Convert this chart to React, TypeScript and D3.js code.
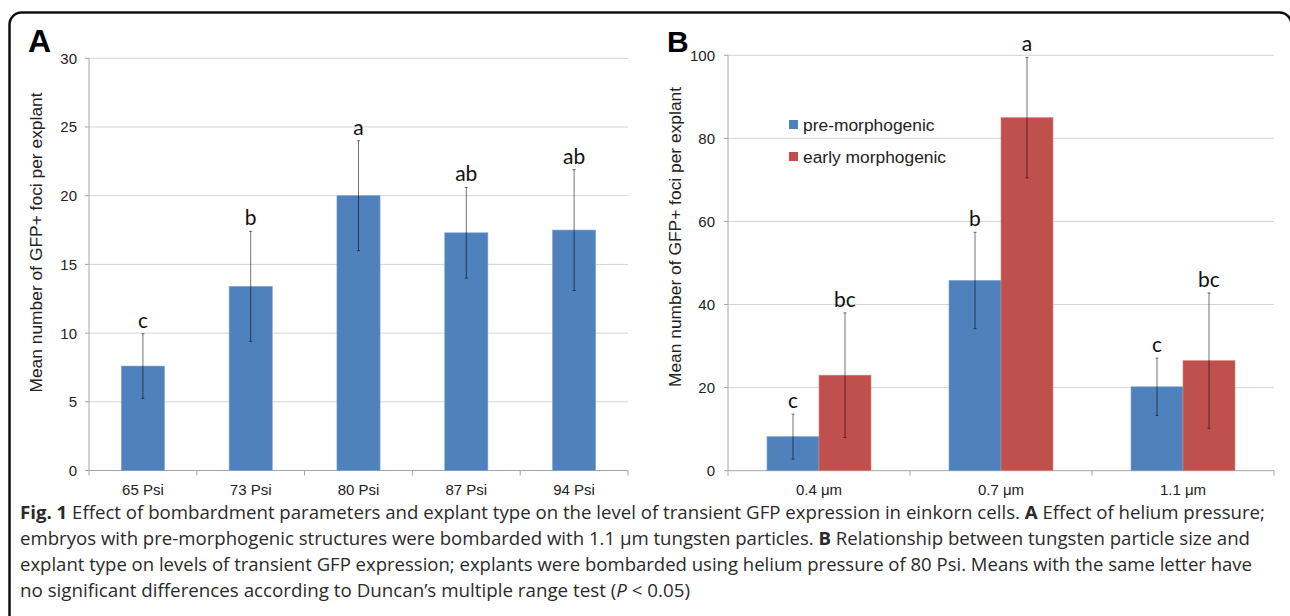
import React from "react";
import * as d3 from "d3";

// ---- Panel A data ----
const pressureCats = ["65 Psi", "73 Psi", "80 Psi", "87 Psi", "94 Psi"];
const pressureMeans = [7.6, 13.4, 20.0, 17.3, 17.5];
const pressureErr = [2.35, 4.0, 4.0, 3.3, 4.4];
const pressureLetters = ["c", "b", "a", "ab", "ab"];
const pressureTicks = [0, 5, 10, 15, 20, 25, 30];

// ---- Panel B data ----
const sizeCats = ["0.4 μm", "0.7 μm", "1.1 μm"];
const seriesNames = ["pre-morphogenic", "early morphogenic"];
const preMeans = [8.2, 45.8, 20.2];
const preErr = [5.4, 11.6, 6.9];
const preLetters = ["c", "b", "c"];
const earlyMeans = [23.0, 85.0, 26.5];
const earlyErr = [15.0, 14.5, 16.3];
const earlyLetters = ["bc", "a", "bc"];
const sizeTicks = [0, 20, 40, 60, 80, 100];

const BLUE = "#4F81BD";
const RED = "#C0504D";
const GRID = "#D4D4D4";
const AXIS = "#A6A6A6";
const ERR = "rgba(0,0,0,0.55)";
const TICK_FONT = "'Liberation Sans', Arial, sans-serif";
const LETTER_FONT = "Lato, 'Open Sans', sans-serif";
const CAP_FONT = "'Open Sans', sans-serif";

function ErrorBar({ x, y0, y1 }: { x: number; y0: number; y1: number }) {
  return (
    <g stroke={ERR} strokeWidth={1}>
      <line x1={x} x2={x} y1={y0} y2={y1} />
      <line x1={x - 1.5} x2={x + 1.5} y1={y0} y2={y0} />
      <line x1={x - 1.5} x2={x + 1.5} y1={y1} y2={y1} />
    </g>
  );
}

function PanelA() {
  const left = 89, right = 628, top = 58.3, bottom = 470.5;
  const y = d3.scaleLinear().domain([0, 30]).range([bottom, top]);
  const x = d3.scaleBand<string>().domain(pressureCats).range([left, right]).paddingInner(0.6).paddingOuter(0.3);
  const step = x.step();
  const boundaries = d3.range(pressureCats.length + 1).map((i) => left + i * step);
  return (
    <g>
      {pressureTicks.map((t) => (
        <g key={t}>
          {t > 0 && <line x1={left} x2={right} y1={y(t)} y2={y(t)} stroke={GRID} strokeWidth={1} />}
          <line x1={left - 4} x2={left} y1={y(t)} y2={y(t)} stroke={AXIS} />
          <text x={left - 12} y={y(t)} dy="0.36em" textAnchor="end" fontFamily={TICK_FONT} fontSize={15} fill="#222">
            {t}
          </text>
        </g>
      ))}
      <line x1={left} x2={left} y1={top} y2={bottom} stroke={AXIS} />
      <line x1={left} x2={right} y1={bottom} y2={bottom} stroke={AXIS} />
      {boundaries.map((b, i) => (
        <line key={i} x1={b} x2={b} y1={bottom} y2={bottom + 5} stroke={AXIS} />
      ))}
      {pressureCats.map((c, i) => {
        const bx = x(c)!;
        const cx = bx + x.bandwidth() / 2;
        const m = pressureMeans[i], e = pressureErr[i];
        return (
          <g key={c}>
            <rect x={bx} y={y(m)} width={x.bandwidth()} height={bottom - y(m)} fill={BLUE} stroke="#7FA3D0" strokeWidth={0.6} />
            <ErrorBar x={cx} y0={y(m + e)} y1={y(m - e)} />
            <text x={cx} y={y(m + e) - 6} textAnchor="middle" fontFamily={LETTER_FONT} fontSize={21} fill="#111">
              {pressureLetters[i]}
            </text>
            <text x={cx} y={495} textAnchor="middle" fontFamily={TICK_FONT} fontSize={15} fill="#222">
              {c}
            </text>
          </g>
        );
      })}
      <text transform="translate(42,242.5) rotate(-90)" textAnchor="middle" fontFamily={TICK_FONT} fontSize={17.4} fill="#222">
        Mean number of GFP+ foci per explant
      </text>
      <text x={28} y={52} fontFamily={TICK_FONT} fontWeight="bold" fontSize={32} fill="#000">A</text>
    </g>
  );
}

function PanelB() {
  const left = 728, right = 1274, top = 55.3, bottom = 470.7;
  const y = d3.scaleLinear().domain([0, 100]).range([bottom, top]);
  const x0 = d3.scaleBand<string>().domain(sizeCats).range([left, right]).paddingInner(78 / 182).paddingOuter(39 / 182);
  const x1 = d3.scaleBand<string>().domain(seriesNames).range([0, x0.bandwidth()]).padding(0);
  const step = x0.step();
  const boundaries = d3.range(sizeCats.length + 1).map((i) => left + i * step);
  const series = [
    { name: seriesNames[0], means: preMeans, errs: preErr, letters: preLetters, color: BLUE, edge: "#7FA3D0" },
    { name: seriesNames[1], means: earlyMeans, errs: earlyErr, letters: earlyLetters, color: RED, edge: "#D88684" },
  ];
  return (
    <g>
      {sizeTicks.map((t) => (
        <g key={t}>
          {t > 0 && <line x1={left} x2={right} y1={y(t)} y2={y(t)} stroke={GRID} strokeWidth={1} />}
          <line x1={left - 4} x2={left} y1={y(t)} y2={y(t)} stroke={AXIS} />
          <text x={left - 13} y={y(t)} dy="0.36em" textAnchor="end" fontFamily={TICK_FONT} fontSize={15} fill="#222">
            {t}
          </text>
        </g>
      ))}
      <line x1={left} x2={left} y1={top} y2={bottom} stroke={AXIS} />
      <line x1={left} x2={right} y1={bottom} y2={bottom} stroke={AXIS} />
      {boundaries.map((b, i) => (
        <line key={i} x1={b} x2={b} y1={bottom} y2={bottom + 5} stroke={AXIS} />
      ))}
      {sizeCats.map((c, i) => (
        <g key={c}>
          {series.map((s) => {
            const bx = x0(c)! + x1(s.name)!;
            const cx = bx + x1.bandwidth() / 2;
            const m = s.means[i], e = s.errs[i];
            return (
              <g key={s.name}>
                <rect x={bx} y={y(m)} width={x1.bandwidth()} height={bottom - y(m)} fill={s.color} stroke={s.edge} strokeWidth={0.6} />
                <ErrorBar x={cx} y0={y(m + e)} y1={y(m - e)} />
                <text x={cx} y={y(m + e) - 6} textAnchor="middle" fontFamily={LETTER_FONT} fontSize={21} fill="#111">
                  {s.letters[i]}
                </text>
              </g>
            );
          })}
          <text x={x0(c)! + x0.bandwidth() / 2} y={495} textAnchor="middle" fontFamily={TICK_FONT} fontSize={15} fill="#222">
            {c}
          </text>
        </g>
      ))}
      {series.map((s, i) => (
        <g key={s.name} transform={`translate(789,${120 + i * 32})`}>
          <rect x={0} y={0} width={9} height={9} fill={s.color} />
          <text x={14} y={4.5} dy="0.36em" fontFamily={TICK_FONT} fontSize={17.4} fill="#222">
            {s.name}
          </text>
        </g>
      ))}
      <text transform="translate(681,237) rotate(-90)" textAnchor="middle" fontFamily={TICK_FONT} fontSize={17.4} fill="#222">
        Mean number of GFP+ foci per explant
      </text>
      <text x={667} y={52} fontFamily={TICK_FONT} fontWeight="bold" fontSize={30} fill="#000">B</text>
    </g>
  );
}

function Caption() {
  const x = 20;
  const fs = 18.6;
  return (
    <g fontFamily={CAP_FONT} fontSize={fs} fill="#2a2a2a">
      <text x={x} y={519} textLength={1245} lengthAdjust="spacingAndGlyphs">
        <tspan fontWeight="bold">Fig. 1</tspan> Effect of bombardment parameters and explant type on the level of transient GFP expression in einkorn cells.{" "}
        <tspan fontWeight="bold">A</tspan> Effect of helium pressure;
      </text>
      <text x={x} y={545} textLength={1230} lengthAdjust="spacingAndGlyphs">
        embryos with pre-morphogenic structures were bombarded with 1.1 μm tungsten particles. <tspan fontWeight="bold">B</tspan> Relationship between tungsten particle size and
      </text>
      <text x={x} y={571} textLength={1232} lengthAdjust="spacingAndGlyphs">
        explant type on levels of transient GFP expression; explants were bombarded using helium pressure of 80 Psi. Means with the same letter have
      </text>
      <text x={x} y={597} textLength={670} lengthAdjust="spacingAndGlyphs">
        no significant differences according to Duncan’s multiple range test (<tspan fontStyle="italic">P</tspan> {"<"} 0.05)
      </text>
    </g>
  );
}

export default function App() {
  return (
    <svg width={1290} height={616} style={{ position: "absolute", left: 0, top: 0, background: "#fff" }}>
      <rect x={9.5} y={12.5} width={1282} height={700} rx={12} ry={12} fill="#fff" stroke="#111" strokeWidth={2.5} />
      <PanelA />
      <PanelB />
      <Caption />
    </svg>
  );
}
